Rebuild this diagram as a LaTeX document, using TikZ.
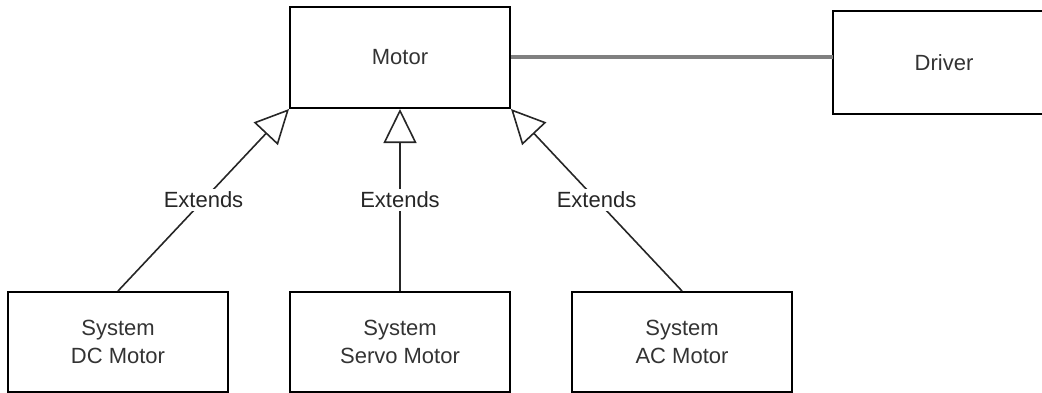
\documentclass[tikz,border=0pt]{standalone}
\usepackage{fontspec}
\setmainfont{Liberation Sans}
\usepackage{tikz}
\usetikzlibrary{arrows.meta,positioning}

\begin{document}
\begin{tikzpicture}[
  x=0.5pt,y=-0.5pt,
  node distance=91pt and 30pt,
  cls/.style={draw,line width=1pt,minimum width=110pt,minimum height=50.5pt,align=center,
    text=black!80,font=\fontsize{11}{14}\selectfont},
  lbl/.style={fill=white,inner sep=1.5pt,text=black!85,font=\fontsize{11}{14}\selectfont},
  ext/.style={-{Triangle[open,length=17pt,width=16.5pt]},line width=0.8pt,black!85},
  assoc/.style={line width=1.6pt,black!50}
]
\useasboundingbox (0,0) rectangle (1042,392);
\clip (0,0) rectangle (1042,392);
\node[cls] (motor) at (400,57.5) {Motor};
\node[cls,draw=none,right=161pt of motor,yshift=-2.5pt] (driver) {Driver};
% driver runs off the right edge
\draw[line width=1pt] ([xshift=20pt]driver.north east) -- (driver.north west)
  -- (driver.south west) -- ([xshift=20pt]driver.south east);
\node[cls,below=of motor,minimum height=50pt] (servo) {System\\Servo Motor};
\node[cls,left=of servo,minimum height=50pt] (dc) {System\\DC Motor};
\node[cls,right=of servo,minimum height=50pt] (ac) {System\\AC Motor};
\draw[assoc] (motor.east |- 0,57) -- (driver.west |- 0,57);
\draw[ext] (dc.north) -- node[lbl] {Extends} (motor.south west);
\draw[ext] (servo.north) -- node[lbl] {Extends} (motor.south);
\draw[ext] (ac.north) -- node[lbl] {Extends} (motor.south east);
\end{tikzpicture}
\end{document}
